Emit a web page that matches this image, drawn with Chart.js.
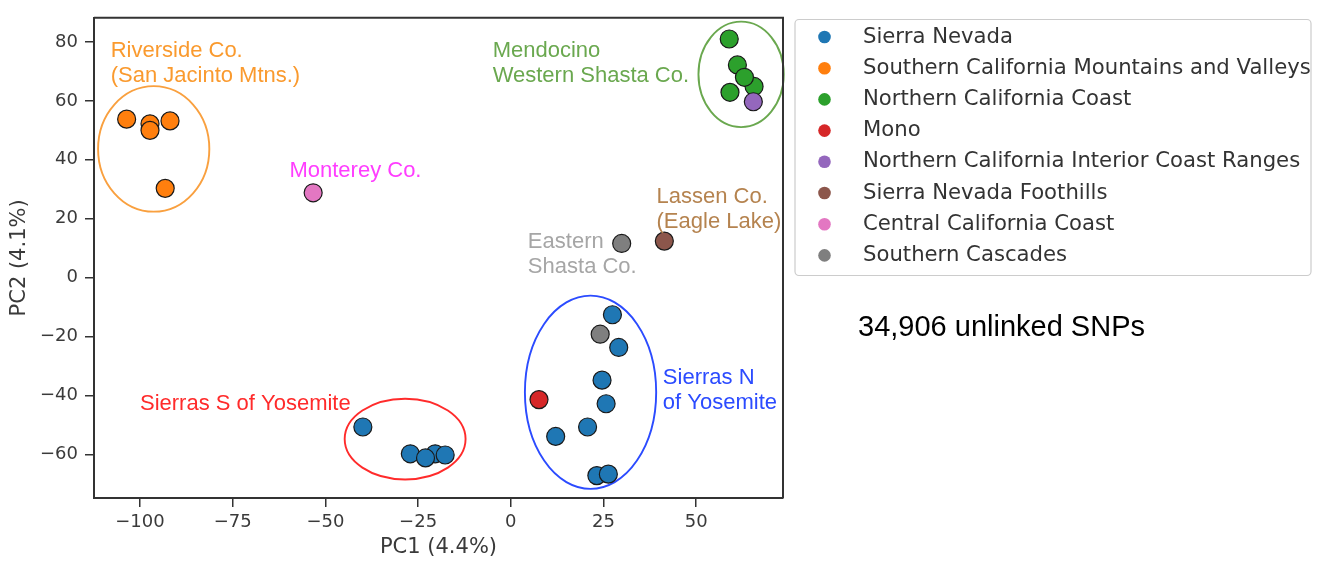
<!DOCTYPE html>
<html>
<head>
<meta charset="utf-8">
<script src="https://cdn.jsdelivr.net/npm/chart.js@4.4.1/dist/chart.umd.min.js"></script>
<style>
  html, body { margin: 0; padding: 0; background: #fff; }
  #wrap { width: 1321px; height: 565px; position: relative; }
</style>
</head>
<body>
<div id="wrap"><canvas id="pca"></canvas></div>
<script>
// groups, in legend order
const groups = [
  'Sierra Nevada',
  'Southern California Mountains and Valleys',
  'Northern California Coast',
  'Mono',
  'Northern California Interior Coast Ranges',
  'Sierra Nevada Foothills',
  'Central California Coast',
  'Southern Cascades'
];
const groupColors = ['#1f77b4', '#ff7f0e', '#2ca02c', '#d62728', '#9467bd', '#8c564b', '#e377c2', '#7f7f7f'];

// PC1 / PC2 per group
const sierraNevadaX = [27.4, 29.1, 24.6, 25.7, 20.7, 12.1, 23.2, 26.3, -39.9, -27.1, -20.4, -17.7, -23.0];
const sierraNevadaY = [-12.6, -23.7, -34.8, -42.8, -50.7, -53.9, -67.2, -66.7, -50.7, -59.8, -59.8, -60.2, -61.2];
const socalX = [-103.6, -97.3, -97.3, -91.9, -93.2];
const socalY = [53.8, 52.2, 50.0, 53.2, 30.3];
const norcalCoastX = [58.9, 61.1, 65.6, 63.0, 59.1];
const norcalCoastY = [81.0, 72.2, 64.9, 68.0, 62.9];
const monoX = [7.6];
const monoY = [-41.4];
const interiorRangesX = [65.4];
const interiorRangesY = [59.7];
const foothillsX = [41.4];
const foothillsY = [12.4];
const centralCoastX = [-53.3];
const centralCoastY = [28.8];
const cascadesX = [29.9, 24.1];
const cascadesY = [11.6, -19.2];

const groupX = [sierraNevadaX, socalX, norcalCoastX, monoX, interiorRangesX, foothillsX, centralCoastX, cascadesX];
const groupY = [sierraNevadaY, socalY, norcalCoastY, monoY, interiorRangesY, foothillsY, centralCoastY, cascadesY];

const xTicks = [-100, -75, -50, -25, 0, 25, 50];
const yTicks = [-60, -40, -20, 0, 20, 40, 60, 80];

// circled clusters (data units: center x, center y, radius x, radius y)
const ellipses = [
  { cx: -96.3, cy: 43.7, rx: 15.0, ry: 21.3, color: '#f9a03f' },
  { cx: 62.1, cy: 69.0, rx: 11.5, ry: 17.9, color: '#6aa84f' },
  { cx: -28.5, cy: -54.8, rx: 16.3, ry: 13.7, color: '#ff2b2b' },
  { cx: 21.5, cy: -38.9, rx: 17.7, ry: 32.8, color: '#2b4bff' }
];

// text notes, anchored at left / middle of first line
const notes = [
  { x: -107.9, y: 76.9, lines: ['Riverside Co.', '(San Jacinto Mtns.)'], color: '#fa9a2e' },
  { x: -59.7, y: 36.3, lines: ['Monterey Co.'], color: '#ff3dff' },
  { x: -4.9, y: 76.9, lines: ['Mendocino', 'Western Shasta Co.'], color: '#6aa84f' },
  { x: 39.3, y: 27.4, lines: ['Lassen Co.', '(Eagle Lake)'], color: '#b5834f' },
  { x: 4.6, y: 12.2, lines: ['Eastern', 'Shasta Co.'], color: '#a6a6a6' },
  { x: -100.0, y: -42.9, lines: ['Sierras S of Yosemite'], color: '#ff2b2b' },
  { x: 41.0, y: -34.2, lines: ['Sierras N', 'of Yosemite'], color: '#2b4bff' }
];

const snpText = '34,906 unlinked SNPs';

function fmt(v) {
  return v < 0 ? '\u2212' + Math.abs(v) : String(v);
}

const datasets = groups.map((name, i) => ({
  label: name,
  data: groupX[i].map((x, j) => ({ x: x, y: groupY[i][j] })),
  backgroundColor: groupColors[i],
  borderColor: '#1a1a1a',
  borderWidth: 1.2,
  pointRadius: 9,
  pointHoverRadius: 9,
  order: groups.length - i
}));

const overlay = {
  id: 'overlay',
  beforeDatasetsDraw(chart) {
    const { ctx, scales: { x, y } } = chart;
    ctx.save();
    ctx.lineWidth = 1.9;
    for (const e of ellipses) {
      const px = x.getPixelForValue(e.cx);
      const py = y.getPixelForValue(e.cy);
      const rx = Math.abs(x.getPixelForValue(e.cx + e.rx) - px);
      const ry = Math.abs(y.getPixelForValue(e.cy + e.ry) - py);
      ctx.strokeStyle = e.color;
      ctx.beginPath();
      ctx.ellipse(px, py, rx, ry, 0, 0, Math.PI * 2);
      ctx.stroke();
    }
    ctx.restore();
  },
  afterDraw(chart) {
    const { ctx, chartArea: a, scales: { x, y } } = chart;
    ctx.save();
    // top + right frame
    ctx.strokeStyle = '#333';
    ctx.lineWidth = 2;
    ctx.beginPath();
    ctx.moveTo(a.left, a.top);
    ctx.lineTo(a.right, a.top);
    ctx.lineTo(a.right, a.bottom);
    ctx.stroke();

    // notes
    ctx.font = '22px "Liberation Sans", Arial, sans-serif';
    ctx.textAlign = 'left';
    ctx.textBaseline = 'middle';
    for (const n of notes) {
      ctx.fillStyle = n.color;
      const px = x.getPixelForValue(n.x);
      const py = y.getPixelForValue(n.y);
      n.lines.forEach((t, k) => ctx.fillText(t, px, py + k * 25));
    }

    // snp count
    ctx.fillStyle = '#000';
    ctx.font = '29px "Liberation Sans", Arial, sans-serif';
    ctx.fillText(snpText, 858, 328);

    // legend box
    const lx = 795, ly = 19.5, lw = 516, lh = 256;
    ctx.fillStyle = '#fff';
    ctx.strokeStyle = '#cccccc';
    ctx.lineWidth = 1.2;
    ctx.beginPath();
    ctx.roundRect(lx, ly, lw, lh, 4);
    ctx.fill();
    ctx.stroke();
    ctx.font = '21.2px "DejaVu Sans", sans-serif';
    groups.forEach((name, i) => {
      const cy = 37 + i * 31.2;
      ctx.fillStyle = groupColors[i];
      ctx.beginPath();
      ctx.arc(824.5, cy, 6.3, 0, Math.PI * 2);
      ctx.fill();
      ctx.fillStyle = '#333';
      ctx.fillText(name, 863, cy);
    });
    ctx.restore();
  }
};

const tickFont = { family: '"DejaVu Sans", sans-serif', size: 18 };
const titleFont = { family: '"DejaVu Sans", sans-serif', size: 21 };

new Chart(document.getElementById('pca'), {
  type: 'scatter',
  data: { datasets: datasets },
  options: {
    responsive: true,
    maintainAspectRatio: false,
    animation: false,
    events: [],
    layout: { padding: { left: 0, right: 538, top: 9, bottom: 0 } },
    plugins: { legend: { display: false }, tooltip: { enabled: false } },
    scales: {
      x: {
        type: 'linear',
        min: -112.4,
        max: 73.4,
        afterFit: (s) => { s.height = 67; },
        afterBuildTicks: (s) => { s.ticks = xTicks.map(v => ({ value: v })); },
        border: { display: true, color: '#333', width: 2 },
        grid: { drawOnChartArea: false, drawTicks: true, tickLength: 9, color: '#333', lineWidth: 1.5 },
        ticks: { color: '#3a3a3a', font: tickFont, padding: 5, maxRotation: 0, callback: (v) => fmt(v) },
        title: { display: true, text: 'PC1 (4.4%)', color: '#3a3a3a', font: titleFont, padding: { top: 4.5, bottom: 4.5 } }
      },
      y: {
        type: 'linear',
        min: -74.8,
        max: 88.2,
        afterFit: (s) => { s.width = 94; },
        afterBuildTicks: (s) => { s.ticks = yTicks.map(v => ({ value: v })); },
        border: { display: true, color: '#333', width: 2 },
        grid: { drawOnChartArea: false, drawTicks: true, tickLength: 9, color: '#333', lineWidth: 1.5 },
        ticks: { color: '#3a3a3a', font: tickFont, padding: 7, callback: (v) => fmt(v) },
        title: { display: true, text: 'PC2 (4.1%)', color: '#3a3a3a', font: titleFont, padding: { top: 7.4, bottom: 7.4 } }
      }
    }
  },
  plugins: [overlay]
});
</script>
</body>
</html>
